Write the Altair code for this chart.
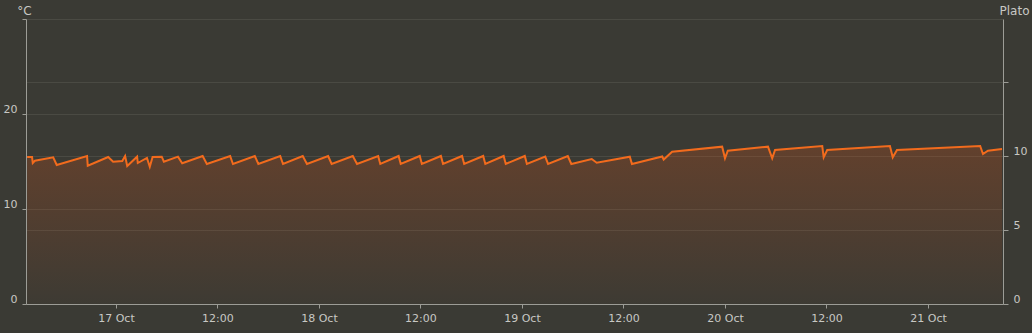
import altair as alt
import pandas as pd

# Temperature readings (°C)
times = [
    "2023-10-16T13:30", "2023-10-16T14:05", "2023-10-16T14:10", "2023-10-16T14:25",
    "2023-10-16T16:35", "2023-10-16T17:00", "2023-10-16T20:35", "2023-10-16T20:40",
    "2023-10-16T23:05", "2023-10-16T23:40", "2023-10-17T00:45", "2023-10-17T01:05",
    "2023-10-17T01:20", "2023-10-17T02:30", "2023-10-17T02:35", "2023-10-17T03:40",
    "2023-10-17T04:00", "2023-10-17T04:20", "2023-10-17T05:25", "2023-10-17T05:40",
    "2023-10-17T07:20", "2023-10-17T07:50", "2023-10-17T10:15", "2023-10-17T10:45",
    "2023-10-17T13:30", "2023-10-17T13:50", "2023-10-17T16:25", "2023-10-17T16:50",
    "2023-10-17T19:25", "2023-10-17T19:45", "2023-10-17T22:05", "2023-10-17T22:35",
    "2023-10-18T01:05", "2023-10-18T01:30", "2023-10-18T04:00", "2023-10-18T04:30",
    "2023-10-18T07:00", "2023-10-18T07:15", "2023-10-18T09:25", "2023-10-18T09:40",
    "2023-10-18T11:55", "2023-10-18T12:10", "2023-10-18T14:25", "2023-10-18T14:40",
    "2023-10-18T16:55", "2023-10-18T17:10", "2023-10-18T19:25", "2023-10-18T19:40",
    "2023-10-18T21:50", "2023-10-18T22:05", "2023-10-19T00:20", "2023-10-19T00:35",
    "2023-10-19T02:45", "2023-10-19T03:05", "2023-10-19T05:25", "2023-10-19T05:50",
    "2023-10-19T08:15", "2023-10-19T08:50", "2023-10-19T12:45", "2023-10-19T13:00",
    "2023-10-19T16:35", "2023-10-19T16:45", "2023-10-19T17:45", "2023-10-19T23:40",
    "2023-10-20T00:00", "2023-10-20T00:20", "2023-10-20T05:05", "2023-10-20T05:35",
    "2023-10-20T05:55", "2023-10-20T11:30", "2023-10-20T11:40", "2023-10-20T12:05",
    "2023-10-20T19:30", "2023-10-20T19:50", "2023-10-20T20:20", "2023-10-21T06:10",
    "2023-10-21T06:30", "2023-10-21T07:05", "2023-10-21T08:45",
]
temps = [
    15.47, 15.47, 14.84, 15.08,
    15.44, 14.63, 15.58, 14.56,
    15.47, 14.98, 15.05, 15.58,
    14.53, 15.51, 14.84, 15.37,
    14.45, 15.47, 15.51, 14.98,
    15.51, 14.81, 15.58, 14.74,
    15.58, 14.74, 15.58, 14.74,
    15.58, 14.74, 15.58, 14.74,
    15.58, 14.74, 15.58, 14.74,
    15.58, 14.74, 15.58, 14.74,
    15.58, 14.74, 15.58, 14.74,
    15.58, 14.74, 15.58, 14.74,
    15.58, 14.74, 15.58, 14.74,
    15.51, 14.74, 15.58, 14.74,
    15.26, 14.87, 15.51, 14.74,
    15.53, 15.21, 16.03, 16.56,
    15.34, 16.14, 16.56, 15.34,
    16.21, 16.63, 15.44, 16.21,
    16.63, 15.44, 16.21, 16.63,
    15.79, 16.14, 16.32,
]

celsius_ticks = [0, 10, 20, 30]
plato_ticks = [0, 5, 10, 15]
plato_max = 19.26

df = pd.DataFrame({"time": [t + ":00Z" for t in times], "temp": temps})
plato_df = pd.DataFrame({"plato": plato_ticks})

BG = "#3a3a34"
GRID = "#4a4a43"
AXIS = "#9c9c96"
LABEL = "#c8c8c4"
FONT = "DejaVu Sans"

x_ticks = [
    alt.DateTime(year=2023, month=10, date=d, hours=h, utc=True)
    for d in [17, 18, 19, 20, 21] for h in [0, 12]
][:-1]

x_enc = alt.X(
    "time:T",
    scale=alt.Scale(
        type="utc",
        domain=[
            alt.DateTime(year=2023, month=10, date=16, hours=13, minutes=22, utc=True),
            alt.DateTime(year=2023, month=10, date=21, hours=8, minutes=52, utc=True),
        ],
    ),
    axis=alt.Axis(
        values=x_ticks,
        labelExpr="utchours(datum.value) == 0 ? utcFormat(datum.value, '%-d %b') : utcFormat(datum.value, '%H:%M')",
        title=None,
        grid=False,
        domainColor=AXIS,
        tickColor=AXIS,
        tickSize=4,
        labelPadding=4,
        labelColor=LABEL,
        labelFont=FONT,
        labelFontSize=11,
        labelFlush=False,
    ),
)

left_axis = alt.Axis(
    orient="left",
    values=celsius_ticks,
    labelExpr="datum.value == 30 ? '' : datum.label",
    title="°C",
    titleAngle=0,
    titleX=-2,
    titleY=-5,
    titleAlign="center",
    titleBaseline="alphabetic",
    titleFont=FONT,
    titleFontSize=12,
    titleFontWeight="normal",
    titleColor=LABEL,
    grid=True,
    gridColor=GRID,
    domainColor=AXIS,
    tickColor=AXIS,
    tickSize=4,
    labelPadding=5,
    labelColor=LABEL,
    labelFont=FONT,
    labelFontSize=11,
    labelBaseline="alphabetic",
    labelOffset=-2,
)

right_axis = alt.Axis(
    orient="right",
    values=plato_ticks,
    labelExpr="datum.value == 15 ? '' : datum.label",
    title="Plato",
    titleAngle=0,
    titleX=11,
    titleY=-5,
    titleAlign="center",
    titleBaseline="alphabetic",
    titleFont=FONT,
    titleFontSize=12,
    titleFontWeight="normal",
    titleColor=LABEL,
    grid=True,
    gridColor=GRID,
    domainColor=AXIS,
    tickColor=AXIS,
    tickSize=5,
    labelPadding=5,
    labelColor=LABEL,
    labelFont=FONT,
    labelFontSize=11,
    labelBaseline="alphabetic",
    labelOffset=-2,
)

base = alt.Chart(df).encode(
    x=x_enc,
    y=alt.Y("temp:Q", scale=alt.Scale(domain=[0, 30], nice=False), axis=left_axis),
)

area = base.mark_area(
    color=alt.Gradient(
        gradient="linear",
        stops=[
            alt.GradientStop(color="rgba(225,85,22,0.24)", offset=0),
            alt.GradientStop(color="rgba(225,85,22,0.02)", offset=1),
        ],
        x1=1, x2=1, y1=0, y2=1,
    ),
    interpolate="linear",
)
line = base.mark_line(color="#f26b1d", strokeWidth=2, interpolate="linear")

temp_layer = alt.layer(area, line)

plato_layer = alt.Chart(plato_df).mark_point(opacity=0).encode(
    y=alt.Y("plato:Q", scale=alt.Scale(domain=[0, plato_max], nice=False), axis=right_axis),
)

chart = (
    alt.layer(temp_layer, plato_layer)
    .resolve_scale(y="independent")
    .properties(
        width=977,
        height=285,
        padding={"left": 26, "top": 19, "right": 29, "bottom": 29},
        autosize=alt.AutoSizeParams(type="none"),
        background=BG,
    )
    .configure_view(stroke=None)
)

chart.save("out.html", embed_options={"renderer": "svg", "actions": False})
